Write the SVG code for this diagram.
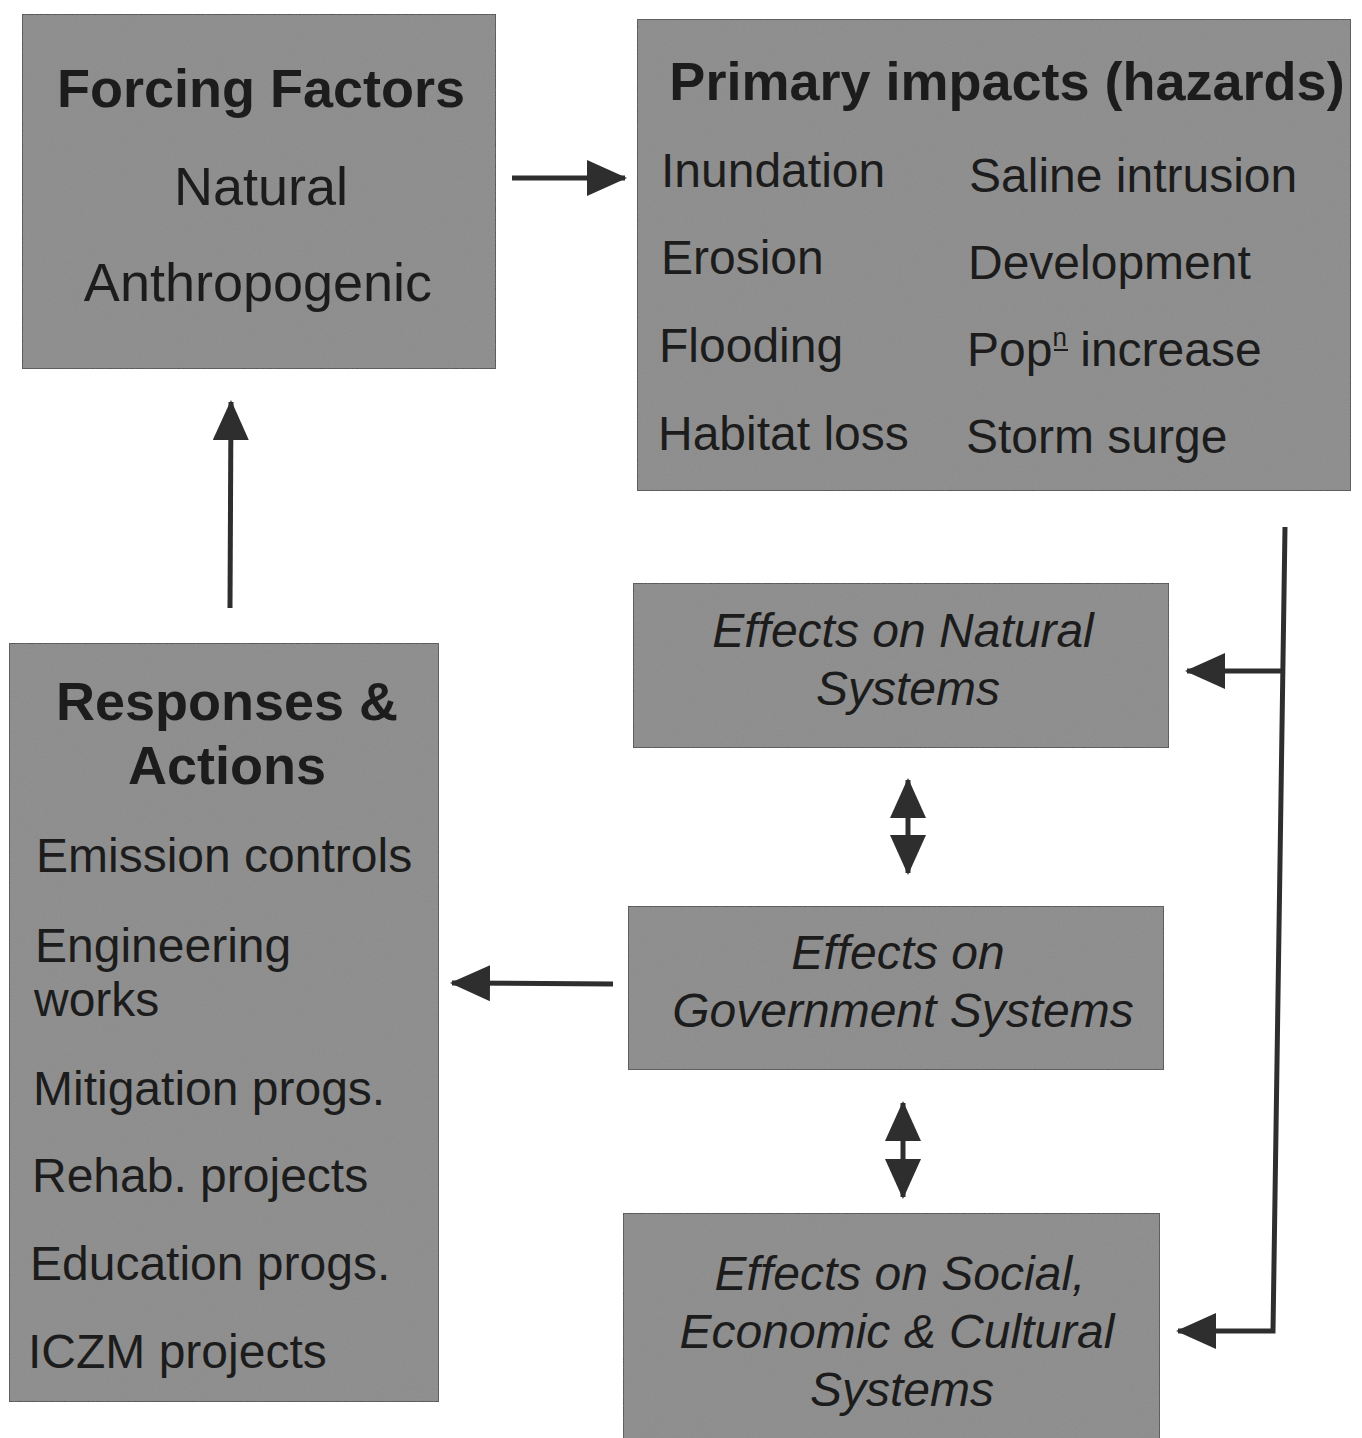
<svg xmlns="http://www.w3.org/2000/svg" width="1362" height="1438" viewBox="0 0 1362 1438">
<style>
.box{fill:#8b8b8b;stroke:#4a4a4a;stroke-width:2}
.t{font-family:"Liberation Sans",Arial,sans-serif;fill:#1c1c1c}
.h{font-weight:bold;font-size:54px}
.m{font-size:54px}
.l{font-size:48px}
.i{font-size:48px;font-style:italic}
.c{stroke:#2e2e2e;stroke-width:5;fill:none}
</style>
<defs>
<marker id="ah" markerUnits="userSpaceOnUse" markerWidth="40" markerHeight="36" refX="38" refY="18" orient="auto-start-reverse">
<path d="M0,0 L40,18 L0,36 Z" fill="#2e2e2e"/>
</marker>
<filter id="grain" x="0" y="0" width="100%" height="100%">
<feTurbulence type="fractalNoise" baseFrequency="0.9" numOctaves="2" seed="3" result="n"/>
<feColorMatrix in="n" type="matrix" values="0 0 0 0 0.35  0 0 0 0 0.35  0 0 0 0 0.35  0 0 0 0.35 0" result="g"/>
<feComposite in="g" in2="SourceGraphic" operator="in" result="gc"/>
<feMerge><feMergeNode in="SourceGraphic"/><feMergeNode in="gc"/></feMerge>
</filter>
</defs>

<g id="forcing-factors">
<rect class="box" x="22" y="14" width="474" height="355" filter="url(#grain)"/>
<text class="t h" x="261" y="107" text-anchor="middle">Forcing Factors</text>
<text class="t m" x="261" y="205" text-anchor="middle">Natural</text>
<text class="t m" x="258" y="301" text-anchor="middle">Anthropogenic</text>
</g>

<g id="primary-impacts">
<rect class="box" x="637" y="19" width="714" height="472" filter="url(#grain)"/>
<text class="t h" x="1007" y="100" text-anchor="middle">Primary impacts (hazards)</text>
<text class="t l" x="661" y="187">Inundation</text>
<text class="t l" x="661" y="274">Erosion</text>
<text class="t l" x="659" y="362">Flooding</text>
<text class="t l" x="658" y="450">Habitat loss</text>
<text class="t l" x="969" y="192">Saline intrusion</text>
<text class="t l" x="968" y="279">Development</text>
<text class="t l" x="967" y="366">Pop<tspan font-size="26" dy="-20">n</tspan><tspan dy="20"> increase</tspan></text>
<line x1="1054" y1="350" x2="1068" y2="350" stroke="#1c1c1c" stroke-width="2"/>
<text class="t l" x="966" y="453">Storm surge</text>
</g>

<g id="effects-natural">
<rect class="box" x="633" y="583" width="536" height="165" filter="url(#grain)"/>
<text class="t i" x="903" y="647" text-anchor="middle">Effects on Natural</text>
<text class="t i" x="908" y="705" text-anchor="middle">Systems</text>
</g>

<g id="effects-government">
<rect class="box" x="628" y="906" width="536" height="164" filter="url(#grain)"/>
<text class="t i" x="898" y="969" text-anchor="middle">Effects on</text>
<text class="t i" x="903" y="1027" text-anchor="middle">Government Systems</text>
</g>

<g id="effects-social">
<rect class="box" x="623" y="1213" width="537" height="240" filter="url(#grain)"/>
<text class="t i" x="900" y="1290" text-anchor="middle">Effects on Social,</text>
<text class="t i" x="897" y="1348" text-anchor="middle">Economic &amp; Cultural</text>
<text class="t i" x="902" y="1406" text-anchor="middle">Systems</text>
</g>

<g id="responses-actions">
<rect class="box" x="9" y="643" width="430" height="759" filter="url(#grain)"/>
<text class="t h" x="227" y="720" text-anchor="middle">Responses &amp;</text>
<text class="t h" x="227" y="784" text-anchor="middle">Actions</text>
<text class="t l" x="36" y="872">Emission controls</text>
<text class="t l" x="35" y="962">Engineering</text>
<text class="t l" x="34" y="1016">works</text>
<text class="t l" x="33" y="1105">Mitigation progs.</text>
<text class="t l" x="32" y="1192">Rehab. projects</text>
<text class="t l" x="30" y="1280">Education progs.</text>
<text class="t l" x="28" y="1368">ICZM projects</text>
</g>

<g id="connectors">
<path class="c" d="M512,178 L625,178" marker-end="url(#ah)"/>
<path class="c" d="M230,608 L231,402" marker-end="url(#ah)"/>
<path class="c" d="M613,984 L452,983" marker-end="url(#ah)"/>
<path class="c" d="M908,780 L908,873" marker-start="url(#ah)" marker-end="url(#ah)"/>
<path class="c" d="M903,1103 L903,1197" marker-start="url(#ah)" marker-end="url(#ah)"/>
<path class="c" d="M1285,527 L1273,1331 L1178,1331" marker-end="url(#ah)"/>
<path class="c" d="M1281,671 L1187,671" marker-end="url(#ah)"/>
</g>
</svg>
